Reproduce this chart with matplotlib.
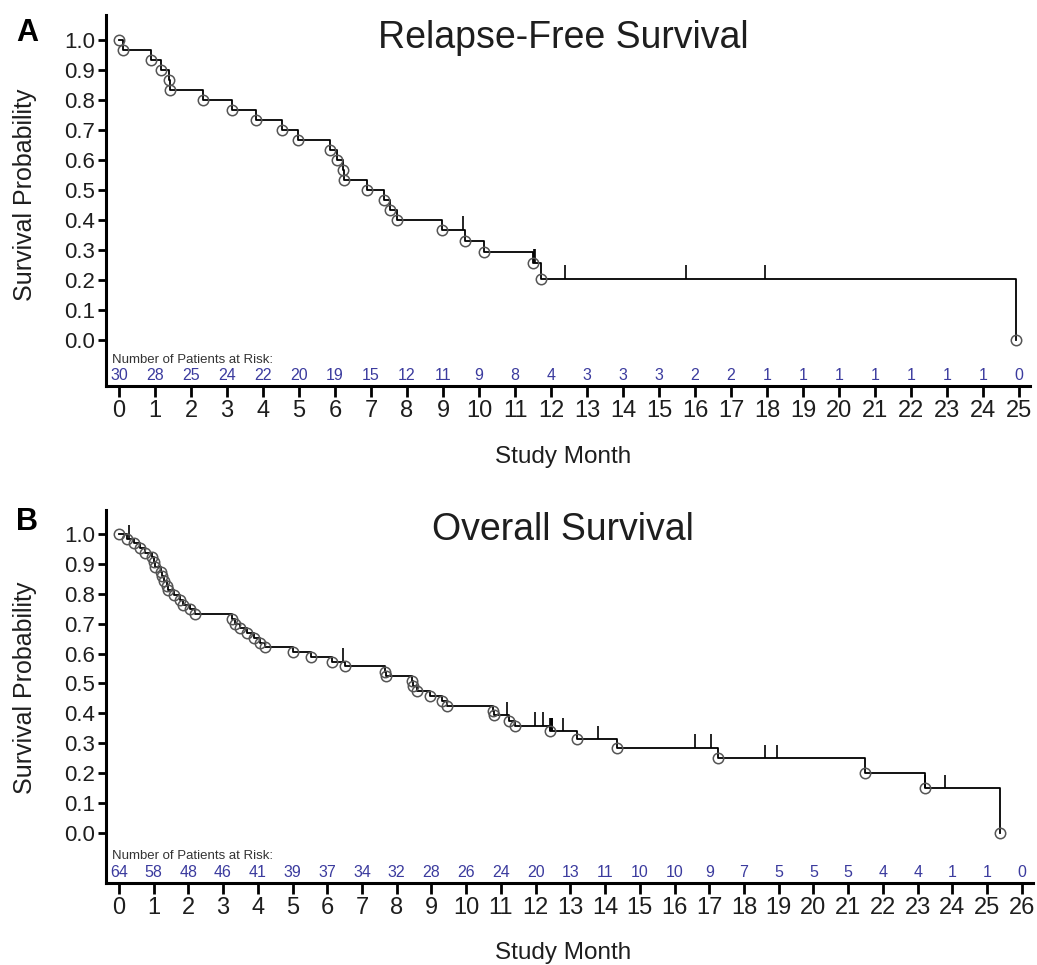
import numpy as np
import matplotlib
matplotlib.use("Agg")
import matplotlib.pyplot as plt

plt.rcParams['font.family'] = ['Liberation Sans', 'DejaVu Sans']

# Relapse-free survival (panel A)
rfs_event_t = [0.11, 0.89, 1.17, 1.39, 1.42, 2.33, 3.14, 3.81, 4.53, 4.97, 5.86, 6.06,
               6.22, 6.25, 6.89, 7.36, 7.53, 7.72, 8.97, 9.61, 10.14, 11.50, 11.72, 24.90]
rfs_surv = [0.967, 0.933, 0.900, 0.867, 0.833, 0.800, 0.767, 0.733, 0.700, 0.667, 0.633, 0.600,
            0.567, 0.533, 0.500, 0.467, 0.433, 0.400, 0.367, 0.330, 0.293, 0.257, 0.205, 0.0]
rfs_censor_t = [9.56, 11.53, 11.55, 12.39, 15.75, 17.95]
rfs_at_risk = [30, 28, 25, 24, 22, 20, 19, 15, 12, 11, 9, 8, 4, 3, 3, 3, 2, 2, 1, 1, 1, 1, 1, 1, 1, 0]

# Overall survival (panel B)
os_event_t = [0.23, 0.45, 0.60, 0.75, 0.95, 1.02, 1.05, 1.20, 1.25, 1.30, 1.40, 1.42, 1.60, 1.75,
              1.85, 2.05, 2.20, 3.25, 3.35, 3.50, 3.70, 3.90, 4.05, 4.20, 5.02, 5.53, 6.13, 6.50,
              7.66, 7.70, 8.44, 8.47, 8.58, 8.95, 9.30, 9.44, 10.77, 10.80, 11.22, 11.40, 12.40,
              13.19, 14.34, 17.25, 21.48, 23.20, 25.37]
os_surv = [0.984, 0.969, 0.953, 0.937, 0.922, 0.906, 0.890, 0.874, 0.859, 0.843, 0.827, 0.811,
           0.795, 0.780, 0.764, 0.748, 0.732, 0.716, 0.700, 0.684, 0.668, 0.653, 0.637, 0.621,
           0.605, 0.589, 0.573, 0.557, 0.540, 0.524, 0.508, 0.491, 0.475, 0.458, 0.442, 0.426,
           0.409, 0.393, 0.376, 0.359, 0.340, 0.314, 0.285, 0.250, 0.200, 0.150, 0.0]
os_censor_t = [0.29, 6.45, 11.18, 11.98, 12.20, 12.42, 12.44, 12.46, 12.48, 12.80, 13.80,
               16.60, 17.05, 18.60, 18.95, 23.22, 23.80]
os_at_risk = [64, 58, 48, 46, 41, 39, 37, 34, 32, 28, 26, 24, 20, 13, 11, 10, 10, 9, 7, 5, 5, 5,
              4, 4, 1, 1, 0]

risk_color = '#3b3b9e'
text_color = '#1e1e1e'

fig = plt.figure(figsize=(10.37, 9.65), dpi=100)


def km_panel(ax, ev_t, surv, cens_t, at_risk, ylim, xlim, label_y, num_y):
    t = np.r_[0, ev_t]
    s = np.r_[1.0, surv]
    ax.step(t, s, where='post', color='black', lw=1.3, zorder=3)
    # event circles (plus the start marker)
    ax.plot(t, s, ls='none', marker='o', ms=7.5, mfc='none', mec='#555555', mew=1.1, zorder=4)
    # censor ticks
    idx = np.searchsorted(ev_t, cens_t, side='right')
    cs = s[idx]
    ax.vlines(cens_t, cs, cs + 0.045, color='black', lw=1.2, zorder=3)

    ax.set_xlim(*xlim)
    ax.set_ylim(*ylim)
    ax.set_xticks(range(len(at_risk)))
    yt = np.round(np.arange(0, 1.01, 0.1), 1)
    ax.set_yticks(yt)
    ax.set_yticklabels([f'{v:.1f}' for v in yt])
    ax.tick_params(axis='x', direction='out', length=8, width=2, labelsize=17, pad=2,
                   colors='black', labelcolor=text_color)
    ax.tick_params(axis='y', direction='out', length=6, width=2, labelsize=16, pad=2,
                   colors='black', labelcolor=text_color)
    for side in ['top', 'right']:
        ax.spines[side].set_visible(False)
    for side in ['left', 'bottom']:
        ax.spines[side].set_linewidth(2.2)

    ax.text(-0.2, label_y, 'Number of Patients at Risk:', fontsize=9.5,
            color='#333333', ha='left', va='center')
    for i, n in enumerate(at_risk):
        ax.text(i, num_y, str(n), fontsize=11.5, color=risk_color,
                ha='center', va='center')


ax1 = fig.add_axes([106 / 1037, (965 - 386) / 965, 924 / 1037, 371 / 965])
km_panel(ax1, rfs_event_t, rfs_surv, rfs_censor_t, rfs_at_risk, (-0.153, 1.083), (-0.36, 25.3),
         -0.068, -0.117)

ax2 = fig.add_axes([106 / 1037, (965 - 883) / 965, 927 / 1037, 373 / 965])
km_panel(ax2, os_event_t, os_surv, os_censor_t, os_at_risk, (-0.167, 1.08), (-0.37, 26.32),
         -0.077, -0.132)

# titles, panel letters, axis labels
fig.text(563 / 1037, 1 - 38 / 965, 'Relapse-Free Survival', fontsize=27, color=text_color,
         ha='center', va='center')
fig.text(563 / 1037, 1 - 530 / 965, 'Overall Survival', fontsize=27, color=text_color,
         ha='center', va='center')
fig.text(27 / 1037, 1 - 33 / 965, 'A', fontsize=22, fontweight='bold', ha='center', va='center')
fig.text(27 / 1037, 1 - 522 / 965, 'B', fontsize=22, fontweight='bold', ha='center', va='center')
fig.text(25 / 1037, 1 - 195 / 965, 'Survival Probability', fontsize=18, rotation=90,
         color=text_color, ha='center', va='center')
fig.text(25 / 1037, 1 - 688 / 965, 'Survival Probability', fontsize=18, rotation=90,
         color=text_color, ha='center', va='center')
fig.text(563 / 1037, 1 - 457 / 965, 'Study Month', fontsize=17.5, color=text_color,
         ha='center', va='center')
fig.text(563 / 1037, 1 - 953 / 965, 'Study Month', fontsize=17.5, color=text_color,
         ha='center', va='center')

fig.savefig('out.png', dpi=100)
